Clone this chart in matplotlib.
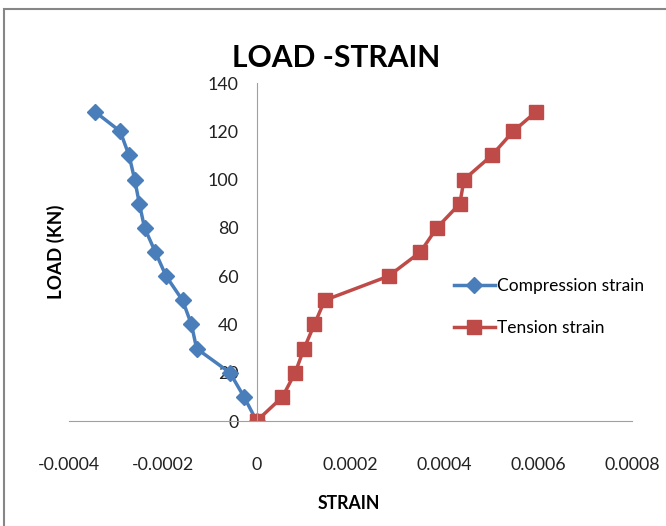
import matplotlib
matplotlib.use("Agg")
import matplotlib.pyplot as plt
from matplotlib.patches import Rectangle

plt.rcParams['font.family'] = ['Lato', 'DejaVu Sans']

# load steps (KN)
comp_load = [0, 10, 20, 30, 40, 50, 60, 70, 80, 90, 100, 110, 120, 128]
comp_strain = [0, -0.000027, -0.000057, -0.000128, -0.000139, -0.000158, -0.000193,
               -0.000216, -0.000239, -0.00025, -0.00026, -0.000272, -0.000291, -0.000344]

tens_load = [0, 10, 20, 30, 40, 50, 60, 70, 80, 90, 100, 110, 120, 128]
tens_strain = [0, 0.000055, 0.000082, 0.000101, 0.000123, 0.000145, 0.000281,
               0.000349, 0.000384, 0.000433, 0.000442, 0.000501, 0.000547, 0.000595]

xticks = [-0.0004, -0.0002, 0, 0.0002, 0.0004, 0.0006, 0.0008]
xticklabels = ['-0.0004', '-0.0002', '0', '0.0002', '0.0004', '0.0006', '0.0008']
yticks = [0, 20, 40, 60, 80, 100, 120, 140]

blue = '#4A7EBB'
red = '#BE4B48'

fig = plt.figure(figsize=(6.66, 5.26), dpi=100)
# outer chart border
fig.patches.append(Rectangle((4/666, -0.1), 1.2, 1 - 9/526 + 0.1, transform=fig.transFigure,
                             fill=False, edgecolor='#868686', linewidth=1.5))

ax = fig.add_axes([69/666, 1 - 421/526, 563/666, 338/526])
ax.plot(comp_strain, comp_load, color=blue, marker='D', markersize=8.3, linewidth=2.5,
        label='Compression strain')
ax.plot(tens_strain, tens_load, color=red, marker='s', markersize=9.5, linewidth=2.5,
        label='Tension strain')

ax.set_xlim(-0.0004, 0.0008)
ax.set_ylim(0, 140)
ax.set_xticks(xticks)
ax.set_xticklabels(xticklabels)
ax.set_yticks(yticks)

for s in ['top', 'right']:
    ax.spines[s].set_visible(False)
ax.spines['left'].set_position(('data', 0))
ax.spines['left'].set_color('#A0A0A0')
ax.spines['bottom'].set_color('#A0A0A0')
ax.spines['left'].set_linewidth(0.8)
ax.spines['bottom'].set_linewidth(0.8)
ax.tick_params(axis='both', length=0, labelsize=12.8, labelcolor='#222222')
ax.tick_params(axis='x', pad=26)
ax.tick_params(axis='y', pad=13)

fig.text(336.5/666, 1 - 67/526, 'LOAD -STRAIN', ha='center', va='baseline',
         fontsize=21.6, fontweight='bold')
fig.text(349/666, 1 - 509/526, 'STRAIN', ha='center', va='baseline', fontsize=12.7,
         fontweight='bold')
fig.text(56/666, 1 - 252/526, 'LOAD (KN)', ha='center', va='center', rotation=90,
         fontsize=13.5, fontweight='bold')

ax.legend(loc='center left', bbox_to_anchor=(438/666, 1 - 307/526),
          bbox_transform=fig.transFigure, frameon=False, fontsize=12.5,
          handlelength=2.4, handletextpad=0.1, labelspacing=1.5)

fig.savefig('out.png', dpi=100)
